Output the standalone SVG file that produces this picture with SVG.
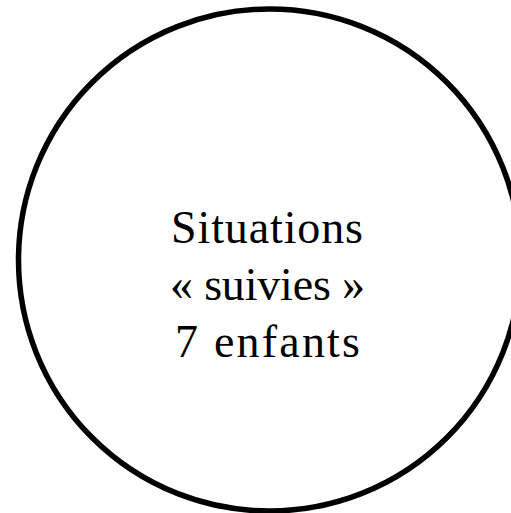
<svg xmlns="http://www.w3.org/2000/svg" width="511" height="513" viewBox="0 0 511 513">
  <style>
    .node-shape { fill: #ffffff; stroke: #000000; stroke-width: 5.5; }
    .label { font-family: "Liberation Serif", "DejaVu Serif", serif; font-size: 46px; fill: #000000; text-anchor: middle; }
  </style>
  <rect x="0" y="0" width="511" height="513" fill="#ffffff"/>
  <g id="connectors"></g>
  <g id="node-situations">
    <circle class="node-shape" cx="269.5" cy="260" r="251"/>
    <text class="label" x="267" y="243" textLength="192" lengthAdjust="spacing">Situations</text>
    <text class="label" x="267.5" y="300" textLength="195" lengthAdjust="spacing">« suivies »</text>
    <text class="label" x="267.5" y="357" textLength="185" lengthAdjust="spacing">7 enfants</text>
  </g>
</svg>
